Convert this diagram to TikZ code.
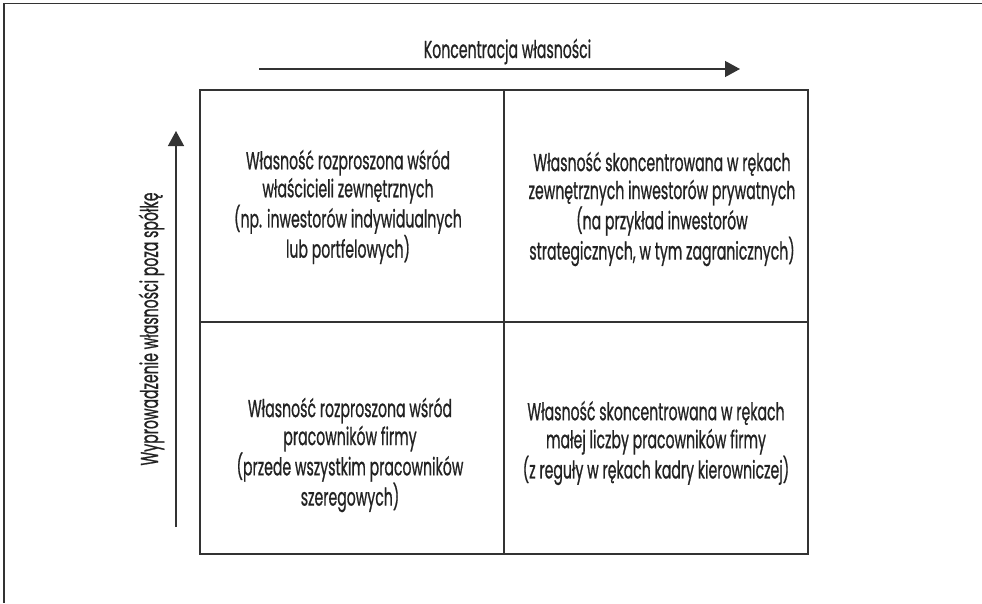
\documentclass[tikz,border=0pt]{standalone}
\usepackage{fontspec}
\setmainfont{Poppins}[FakeStretch=0.575, FakeBold=0.7]
\usetikzlibrary{arrows.meta}
\definecolor{ink}{HTML}{222222}
\definecolor{rule}{HTML}{333333}
\begin{document}
\begin{tikzpicture}[x=1pt,y=-1pt,
  celltext/.style={align=center, font=\fontsize{24.5}{28}\selectfont, text=ink, inner sep=0pt},
  axislabel/.style={font=\fontsize{24.5}{28}\selectfont, text=ink, inner sep=0pt},
  cellbox/.style={draw=rule, line width=1.1pt, minimum width=304pt, minimum height=232pt, inner sep=0pt, outer sep=0pt},
  axisarrow/.style={draw=rule, line width=1.3pt, -{Triangle[length=15pt,width=16pt]}}]
\useasboundingbox (0,0) rectangle (982,603);
% outer frame (top and left edges)
\draw[rule, line width=1.8pt] (982,3.5) -- (4,3.5) -- (4,603);
% grid cells
\node[cellbox] (tl) at (352,206) {};
\node[cellbox] (tr) at (656,206) {};
\node[cellbox] (bl) at (352,438) {};
\node[cellbox] (br) at (656,438) {};
\draw[rule, line width=2pt] (bl.south west) -- (br.south east);
% cell texts
\node[celltext] (tltext) at (348,207) {Własność rozproszona wśród\\właścicieli zewnętrznych\\(np. inwestorów indywidualnych\\lub portfelowych)};
\node[celltext] (trtext) at (662,209) {Własność skoncentrowana w rękach\\zewnętrznych inwestorów prywatnych\\(na przykład inwestorów\\strategicznych, w tym zagranicznych)};
\node[celltext] (bltext) at (350,455) {Własność rozproszona wśród\\pracowników firmy\\(przede wszystkim pracowników\\szeregowych)};
\node[celltext] (brtext) at (656,443) {Własność skoncentrowana w rękach\\małej liczby pracowników firmy\\(z reguły w rękach kadry kierowniczej)};
% axes
\coordinate (hstart) at (259,69);
\coordinate (hend) at (740,69);
\draw[axisarrow] (hstart) -- (hend);
\node[axislabel, anchor=base] (htitle) at (507.5,58) {Koncentracja własności};
\coordinate (vstart) at (176,527);
\coordinate (vend) at (176,131);
\draw[axisarrow] (vstart) -- (vend);
\node[axislabel, anchor=base, rotate=90] (vtitle) at (158,329) {Wyprowadzenie własności poza spółkę};
\end{tikzpicture}
\end{document}
